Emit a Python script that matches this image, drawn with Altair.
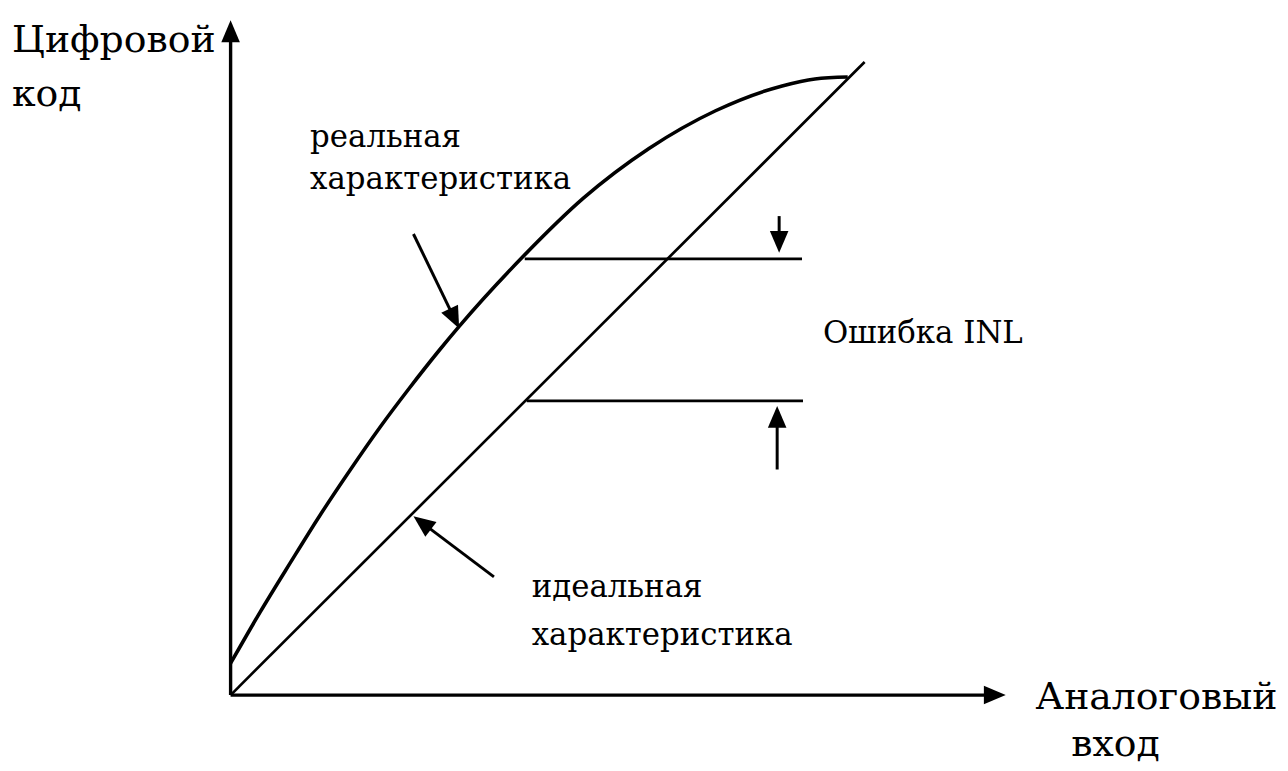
import altair as alt
import numpy as np
import pandas as pd

# ---------------- data (units: axes corner at 0,0) ----------------
# real (non-linear) transfer characteristic
real_x = [0.00, 0.30, 0.60, 0.90, 1.20, 1.50, 1.80, 2.10, 2.30, 2.95, 3.55, 4.21, 4.88, 5.55, 5.88, 6.21]
real_y = [0.32, 0.84, 1.33, 1.81, 2.26, 2.69, 3.09, 3.47, 3.71, 4.42, 5.00, 5.50, 5.88, 6.13, 6.20, 6.22]

# ideal transfer characteristic
ideal_x = [0.0, 6.38]
ideal_y = [0.0, 6.37]

# INL error level lines
inl_x_start = [2.96, 2.98]
inl_x_end = [5.75, 5.76]
inl_y = [4.39, 2.96]

# axis arrows (start -> tip)
axis_x0 = [0.0, 0.0]
axis_y0 = [0.0, 0.0]
axis_x1 = [0.0, 7.80]
axis_y1 = [6.79, 0.0]

# annotation arrows (start -> tip)
ann_x0 = [5.52, 5.50, 1.84, 2.65]
ann_y0 = [4.82, 2.27, 4.64, 1.19]
ann_x1 = [5.52, 5.50, 2.30, 1.84]
ann_y1 = [4.45, 2.91, 3.69, 1.80]

# texts
big_text = ["Цифровой", "код", "Аналоговый", "вход"]
big_x = [-2.20, -2.20, 8.10, 8.46]
big_y = [6.47, 5.93, -0.14, -0.61]

small_text = ["реальная", "характеристика", "Ошибка INL", "идеальная", "характеристика"]
small_x = [0.80, 0.80, 5.96, 3.03, 3.03]
small_y = [5.52, 5.09, 3.54, 0.99, 0.50]

# ---------------- chart geometry ----------------
W, H = 1280, 763
x_dom = [-2.24, 10.56]
y_dom = [-0.74, 6.89]
px_per_unit = W / (x_dom[1] - x_dom[0])

HEAD_LEN = 22.0  # px
HEAD_SIZE = (HEAD_LEN / 2) ** 2 * 4  # Vega custom symbol scale = sqrt(size)/2
HEAD_PATH = "M0,0 L0.85,2 L-0.85,2 Z"  # tip at origin, pointing up
SERIF = "DejaVu Serif"


def arrows_df(x0, y0, x1, y1):
    x0, y0, x1, y1 = map(np.asarray, (x0, y0, x1, y1))
    du, dv = x1 - x0, y1 - y0
    L = np.hypot(du, dv)
    back = (HEAD_LEN * 0.6) / px_per_unit
    return pd.DataFrame({
        "x": x0, "y": y0,
        "sx": x1 - du / L * back, "sy": y1 - dv / L * back,
        "tx": x1, "ty": y1,
        "angle": np.degrees(np.arctan2(du, dv)) % 360,
    })


xs = alt.Scale(domain=x_dom, nice=False, zero=False)
ys = alt.Scale(domain=y_dom, nice=False, zero=False)


def X(f):
    return alt.X(f, type="quantitative", scale=xs, axis=None)


def Y(f):
    return alt.Y(f, type="quantitative", scale=ys, axis=None)


real_df = pd.DataFrame({"x": real_x, "y": real_y, "i": range(len(real_x))})
ideal_df = pd.DataFrame({"x": ideal_x, "y": ideal_y, "i": range(len(ideal_x))})
inl_df = pd.DataFrame({"x": inl_x_start, "x2": inl_x_end, "y": inl_y})
axis_df = arrows_df(axis_x0, axis_y0, axis_x1, axis_y1)
ann_df = arrows_df(ann_x0, ann_y0, ann_x1, ann_y1)
heads_df = pd.concat([axis_df, ann_df], ignore_index=True)
big_df = pd.DataFrame({"t": big_text, "x": big_x, "y": big_y})
small_df = pd.DataFrame({"t": small_text, "x": small_x, "y": small_y})

curve = alt.Chart(real_df).mark_line(color="black", strokeWidth=3.6, interpolate="monotone").encode(
    x=X("x"), y=Y("y"), order="i:Q")
ideal = alt.Chart(ideal_df).mark_line(color="black", strokeWidth=2.7).encode(
    x=X("x"), y=Y("y"), order="i:Q")
inl = alt.Chart(inl_df).mark_rule(color="black", strokeWidth=2.8).encode(
    x=X("x"), x2="x2:Q", y=Y("y"))
axes = alt.Chart(axis_df).mark_rule(color="black", strokeWidth=3.4).encode(
    x=X("x"), y=Y("y"), x2="sx:Q", y2="sy:Q")
ann = alt.Chart(ann_df).mark_rule(color="black", strokeWidth=3.0).encode(
    x=X("x"), y=Y("y"), x2="sx:Q", y2="sy:Q")
heads = alt.Chart(heads_df).mark_point(
    shape=HEAD_PATH, size=HEAD_SIZE, filled=True, color="black", opacity=1, strokeWidth=0
).encode(x=X("tx"), y=Y("ty"), angle=alt.Angle("angle:Q", scale=None))

big = alt.Chart(big_df).mark_text(
    font=SERIF, fontSize=38, align="left", baseline="alphabetic", color="black"
).encode(x=X("x"), y=Y("y"), text="t:N")
small = alt.Chart(small_df).mark_text(
    font=SERIF, fontSize=31, align="left", baseline="alphabetic", color="black"
).encode(x=X("x"), y=Y("y"), text="t:N")

chart = alt.layer(axes, ideal, curve, inl, ann, heads, big, small).properties(
    width=W, height=H, padding=0, autosize="none", background="white"
).configure_view(stroke=None)

chart.save("out.html", embed_options={"renderer": "svg", "actions": False})
